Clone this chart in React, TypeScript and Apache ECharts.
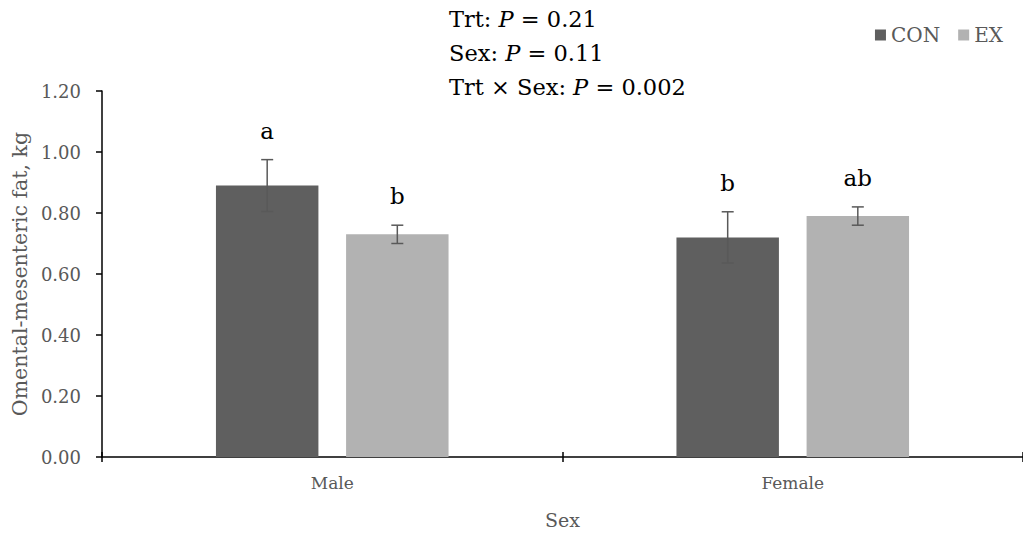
import React, { useEffect, useRef } from "react";
import * as echarts from "echarts";

const categories = ["Male", "Female"];
const conValues = [0.89, 0.72];
const exValues = [0.73, 0.79];
const conSE = [0.085, 0.084];
const exSE = [0.03, 0.03];
const conLetters = ["a", "b"];
const exLetters = ["b", "ab"];
const yTicks = [0, 0.2, 0.4, 0.6, 0.8, 1.0, 1.2];

const FONT = '"DejaVu Serif", serif';
const BAR_W = 0.2225;
const BAR_GAP = 0.27;
const OFFSET = (BAR_W * (1 + BAR_GAP)) / 2;

function errSeries(name: string, vals: number[], ses: number[], letters: string[], sign: number) {
  return {
    name: name + "-err",
    type: "custom",
    z: 5,
    xAxisIndex: 0,
    data: vals.map((v, i) => [i, v, ses[i]]),
    encode: { x: 0, y: 1 },
    renderItem: (params: any, api: any) => {
      const cat = api.value(0);
      const v = api.value(1);
      const se = api.value(2);
      const band = api.size([1, 0])[0];
      const off = sign * OFFSET * band;
      const top = api.coord([cat, v + se]);
      const bot = api.coord([cat, v - se]);
      const x = top[0] + off;
      const cap = 6;
      const st = { stroke: "#595959", lineWidth: 1.5 };
      return {
        type: "group",
        children: [
          { type: "line", shape: { x1: x, y1: top[1], x2: x, y2: bot[1] }, style: st },
          { type: "line", shape: { x1: x - cap, y1: top[1], x2: x + cap, y2: top[1] }, style: st },
          { type: "line", shape: { x1: x - cap, y1: bot[1], x2: x + cap, y2: bot[1] }, style: st },
          {
            type: "text",
            x: x,
            y: top[1] - 29,
            style: {
              text: letters[params.dataIndex],
              fill: "#000",
              fontSize: 23,
              fontFamily: FONT,
              align: "center",
              verticalAlign: "middle",
            },
          },
        ],
      };
    },
  };
}

export default function App() {
  const ref = useRef<HTMLDivElement>(null);
  useEffect(() => {
    document.body.style.margin = "0";
    const chart = echarts.init(ref.current!, null, { renderer: "svg" });
    chart.setOption({
      animation: false,
      backgroundColor: "#fff",
      textStyle: { fontFamily: FONT },
      legend: {
        data: ["CON", "EX"],
        right: 15,
        top: 20,
        itemWidth: 11,
        itemHeight: 11,
        itemGap: 18,
        icon: "rect",
        textStyle: { color: "#595959", fontSize: 20, fontFamily: FONT },
      },
      grid: { left: 102, right: -6, top: 91, bottom: 80, containLabel: false },
      xAxis: [
        {
          type: "category",
          data: categories,
          name: "Sex",
          nameLocation: "middle",
          nameGap: 53,
          nameTextStyle: { color: "#595959", fontSize: 19, fontFamily: FONT },
          axisLine: { lineStyle: { color: "#000", width: 1.5 } },
          axisTick: { show: true, length: 5, lineStyle: { color: "#000", width: 1.5 } },
          axisLabel: { color: "#595959", fontSize: 17, fontFamily: FONT, margin: 17 },
        },
        {
          type: "category",
          data: categories,
          position: "bottom",
          axisLine: { show: false },
          axisLabel: { show: false },
          axisTick: { show: true, inside: true, length: 5, lineStyle: { color: "#000", width: 1.5 } },
        },
      ],
      yAxis: {
        type: "value",
        min: 0,
        max: 1.2,
        interval: 0.2,
        name: "Omental-mesenteric fat, kg",
        nameLocation: "middle",
        nameGap: 70,
        nameTextStyle: { color: "#595959", fontSize: 20.5, fontFamily: FONT },
        splitLine: { show: false },
        axisLine: { show: true, lineStyle: { color: "#000", width: 1.5 } },
        axisTick: { show: true, length: 6, lineStyle: { color: "#000", width: 1.5 } },
        axisLabel: {
          color: "#595959",
          fontSize: 18,
          fontFamily: FONT,
          margin: 21,
          formatter: (v: number) => (yTicks.includes(Math.round(v * 10) / 10) ? v.toFixed(2) : ""),
        },
      },
      graphic: [
        {
          type: "text",
          left: 449,
          top: 2,
          style: {
            text: "Trt: {i|P} = 0.21\nSex: {i|P} = 0.11\nTrt × Sex: {i|P} = 0.002",
            fontSize: 22.5,
            fontFamily: FONT,
            fill: "#000",
            lineHeight: 34,
            rich: {
              i: { fontStyle: "italic", fontSize: 22.5, fontFamily: FONT, fill: "#000", lineHeight: 34 },
            },
          },
        },
      ],
      series: [
        {
          name: "CON",
          type: "bar",
          data: conValues,
          barWidth: BAR_W * 100 + "%",
          barGap: BAR_GAP * 100 + "%",
          itemStyle: { color: "#5f5f5f" },
        },
        {
          name: "EX",
          type: "bar",
          data: exValues,
          barWidth: BAR_W * 100 + "%",
          barGap: BAR_GAP * 100 + "%",
          itemStyle: { color: "#b2b2b2" },
        },
        errSeries("CON", conValues, conSE, conLetters, -1),
        errSeries("EX", exValues, exSE, exLetters, 1),
      ],
    });
    return () => chart.dispose();
  }, []);
  return <div ref={ref} style={{ width: 1023, height: 537 }} />;
}
